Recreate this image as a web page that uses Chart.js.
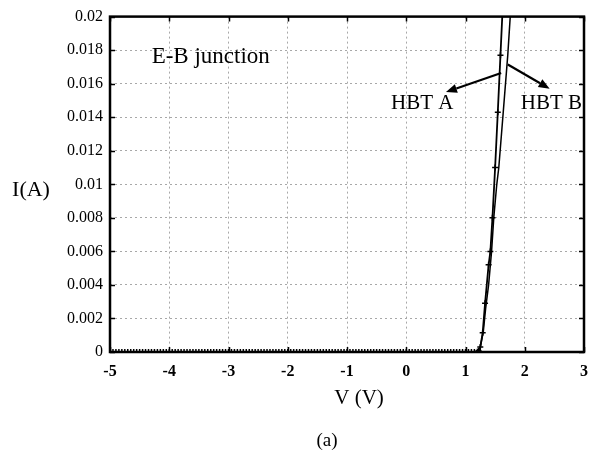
<!DOCTYPE html>
<html>
<head>
<meta charset="utf-8">
<script src="https://cdn.jsdelivr.net/npm/chart.js@4/dist/chart.umd.min.js"></script>
<style>
  html, body { margin: 0; padding: 0; background: #fff; }
  #wrap { width: 600px; height: 454px; }
</style>
</head>
<body>
<div id="wrap"><canvas id="iv"></canvas></div>
<script>
// Reverse-bias / off-region sweep voltages (V) and measured current (A)
const vOff = [
  -5, -4.95, -4.9, -4.85, -4.8, -4.75, -4.7, -4.65, -4.6, -4.55,
  -4.5, -4.45, -4.4, -4.35, -4.3, -4.25, -4.2, -4.15, -4.1, -4.05,
  -4, -3.95, -3.9, -3.85, -3.8, -3.75, -3.7, -3.65, -3.6, -3.55,
  -3.5, -3.45, -3.4, -3.35, -3.3, -3.25, -3.2, -3.15, -3.1, -3.05,
  -3, -2.95, -2.9, -2.85, -2.8, -2.75, -2.7, -2.65, -2.6, -2.55,
  -2.5, -2.45, -2.4, -2.35, -2.3, -2.25, -2.2, -2.15, -2.1, -2.05,
  -2, -1.95, -1.9, -1.85, -1.8, -1.75, -1.7, -1.65, -1.6, -1.55,
  -1.5, -1.45, -1.4, -1.35, -1.3, -1.25, -1.2, -1.15, -1.1, -1.05,
  -1, -0.95, -0.9, -0.85, -0.8, -0.75, -0.7, -0.65, -0.6, -0.55,
  -0.5, -0.45, -0.4, -0.35, -0.3, -0.25, -0.2, -0.15, -0.1, -0.05,
  0, 0.05, 0.1, 0.15, 0.2, 0.25, 0.3, 0.35, 0.4, 0.45,
  0.5, 0.55, 0.6, 0.65, 0.7, 0.75, 0.8, 0.85, 0.9, 0.95,
  1, 1.05, 1.1, 1.15
];
const iOff = [
  0, 0, 0, 0, 0, 0, 0, 0, 0, 0,
  0, 0, 0, 0, 0, 0, 0, 0, 0, 0,
  0, 0, 0, 0, 0, 0, 0, 0, 0, 0,
  0, 0, 0, 0, 0, 0, 0, 0, 0, 0,
  0, 0, 0, 0, 0, 0, 0, 0, 0, 0,
  0, 0, 0, 0, 0, 0, 0, 0, 0, 0,
  0, 0, 0, 0, 0, 0, 0, 0, 0, 0,
  0, 0, 0, 0, 0, 0, 0, 0, 0, 0,
  0, 0, 0, 0, 0, 0, 0, 0, 0, 0,
  0, 0, 0, 0, 0, 0, 0, 0, 0, 0,
  0, 0, 0, 0, 0, 0, 0, 0, 0, 0,
  0, 0, 0, 0, 0, 0, 0, 0, 0, 0,
  0, 0, 0, 0
];

// Forward-bias turn-on of HBT A
const vOnA = [1.2, 1.22, 1.25, 1.29, 1.33, 1.39, 1.42, 1.455, 1.5, 1.545, 1.59, 1.635];
const iOnA = [0.00002, 0.00008, 0.0003, 0.00115, 0.0029, 0.0052, 0.006, 0.008, 0.011, 0.0143, 0.0177, 0.0211];

// Forward-bias turn-on of HBT B
const vOnB = [1.2, 1.22, 1.25, 1.3, 1.34, 1.39, 1.44, 1.477, 1.528, 1.562, 1.636, 1.714, 1.755, 1.775];
const iOnB = [0.00002, 0.00008, 0.0003, 0.0012, 0.0026, 0.004, 0.006, 0.008, 0.01, 0.011, 0.01426, 0.01773, 0.02, 0.0209];

// Axis tick labels
const xTickLabels = ['-5', '-4', '-3', '-2', '-1', '0', '1', '2', '3'];
const yTickLabels = ['0', '0.002', '0.004', '0.006', '0.008', '0.01', '0.012', '0.014', '0.016', '0.018', '0.02'];

// Text labels placed in data units (V, A)
const notes = [
  { text: 'E-B junction', v: -3.3, i: 0.01757, size: 23 },
  { text: 'HBT A', v: 0.27, i: 0.01479, size: 21 },
  { text: 'HBT B', v: 2.45, i: 0.01479, size: 21 }
];
// Pointer arrows: from curve to label, in data units
const arrows = [
  { v0: 1.602, i0: 0.01664, v1: 0.67, i1: 0.0155 },
  { v0: 1.714, i0: 0.01714, v1: 2.42, i1: 0.0157 }
];

function toPts(vs, is) { return vs.map((v, k) => ({ x: v, y: is[k] })); }

const SERIF = '"Liberation Serif", "Times New Roman", serif';

const decor = {
  id: 'decor',
  afterDatasetsDraw(chart) {
    const { ctx, chartArea: a, scales: { x, y } } = chart;
    ctx.save();
    // inward tick marks on all four sides
    ctx.strokeStyle = '#000';
    ctx.lineWidth = 1.5;
    ctx.beginPath();
    x.ticks.forEach(t => {
      const px = Math.round(x.getPixelForValue(t.value)) + 0.5;
      ctx.moveTo(px, a.bottom); ctx.lineTo(px, a.bottom - 5);
      ctx.moveTo(px, a.top); ctx.lineTo(px, a.top + 5);
    });
    y.ticks.forEach(t => {
      const py = Math.round(y.getPixelForValue(t.value)) + 0.5;
      ctx.moveTo(a.left, py); ctx.lineTo(a.left + 5, py);
      ctx.moveTo(a.right, py); ctx.lineTo(a.right - 5, py);
    });
    ctx.stroke();
    // plot frame
    ctx.lineWidth = 2.5;
    ctx.strokeRect(a.left, a.top, a.right - a.left, a.bottom - a.top);

    // annotation texts
    ctx.fillStyle = '#000';
    ctx.textAlign = 'center';
    ctx.textBaseline = 'middle';
    notes.forEach(n => {
      ctx.font = n.size + 'px ' + SERIF;
      ctx.fillText(n.text, x.getPixelForValue(n.v), y.getPixelForValue(n.i));
    });
    // arrows
    ctx.lineWidth = 2.2;
    arrows.forEach(ar => {
      const x0 = x.getPixelForValue(ar.v0), y0 = y.getPixelForValue(ar.i0);
      const x1 = x.getPixelForValue(ar.v1), y1 = y.getPixelForValue(ar.i1);
      const ang = Math.atan2(y1 - y0, x1 - x0);
      const hl = 11, hw = 4.5;
      const bx = x1 - hl * Math.cos(ang), by = y1 - hl * Math.sin(ang);
      ctx.beginPath();
      ctx.moveTo(x0, y0); ctx.lineTo(bx, by);
      ctx.stroke();
      ctx.beginPath();
      ctx.moveTo(x1, y1);
      ctx.lineTo(bx + hw * Math.sin(ang), by - hw * Math.cos(ang));
      ctx.lineTo(bx - hw * Math.sin(ang), by + hw * Math.cos(ang));
      ctx.closePath();
      ctx.fill();
    });

    // axis titles and panel tag
    ctx.font = '22px ' + SERIF;
    ctx.fillText('I(A)', 31, (a.top + a.bottom) / 2 + 6);
    ctx.font = '21px ' + SERIF;
    ctx.fillText('V (V)', 359, 398);
    ctx.font = '19px ' + SERIF;
    ctx.fillText('(a)', 327, 441);
    ctx.restore();
  }
};

new Chart(document.getElementById('iv'), {
  type: 'scatter',
  data: {
    datasets: [
      {
        label: 'HBT B',
        data: toPts(vOff.concat(vOnB), iOff.concat(iOnB)),
        showLine: true,
        borderColor: '#000',
        borderWidth: 1.5,
        pointRadius: 0,
        tension: 0,
        clip: 0
      },
      {
        label: 'HBT A',
        data: toPts(vOff.concat(vOnA), iOff.concat(iOnA)),
        showLine: true,
        borderColor: '#000',
        borderWidth: 1.8,
        pointStyle: 'cross',
        pointRadius: 3,
        pointBorderWidth: 1.5,
        pointBorderColor: '#000',
        pointBackgroundColor: '#000',
        tension: 0,
        clip: 0
      }
    ]
  },
  options: {
    responsive: true,
    maintainAspectRatio: false,
    animation: false,
    events: [],
    layout: { padding: { left: 0, right: 16, top: 14, bottom: 0 } },
    plugins: { legend: { display: false }, tooltip: { enabled: false } },
    scales: {
      x: {
        type: 'linear',
        min: -5, max: 3,
        afterFit(s) { s.height = 102; },
        ticks: {
          stepSize: 1,
          padding: 10,
          color: '#000',
          font: { family: SERIF, size: 16, weight: 'bold' },
          callback: (v, k) => xTickLabels[k]
        },
        grid: { color: '#a8a8a8', lineWidth: 1, drawTicks: false },
        border: { display: false, dash: [2, 3] }
      },
      y: {
        type: 'linear',
        min: 0, max: 0.02,
        afterFit(s) { s.width = 110; },
        ticks: {
          stepSize: 0.002,
          padding: 7,
          color: '#000',
          font: { family: SERIF, size: 16 },
          callback: (v, k) => yTickLabels[k]
        },
        grid: { color: '#a8a8a8', lineWidth: 1, drawTicks: false },
        border: { display: false, dash: [2, 3] }
      }
    }
  },
  plugins: [decor]
});
</script>
</body>
</html>
